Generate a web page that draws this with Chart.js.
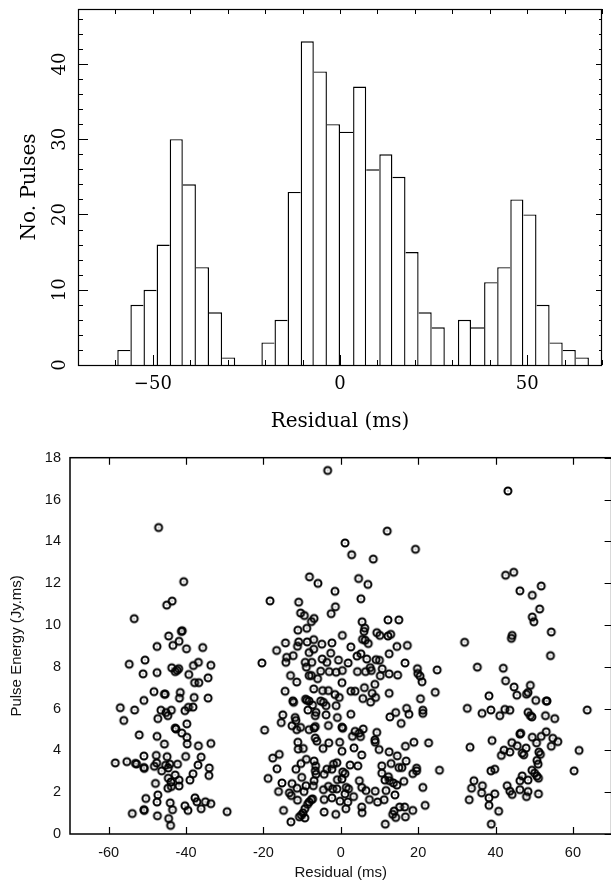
<!DOCTYPE html>
<html>
<head>
<meta charset="utf-8">
<script src="https://cdn.jsdelivr.net/npm/chart.js@4.4.1/dist/chart.umd.min.js"></script>
<style>
html,body{margin:0;padding:0;background:#fff;overflow:hidden;width:611px;height:880px}
#top{position:absolute;left:0;top:0;width:611px;height:440px}
#bot{position:absolute;left:0;top:440px;width:620px;height:440px}
</style>
</head>
<body>
<div id="top"><canvas id="histo" width="611" height="440"></canvas></div>
<div id="bot"><canvas id="scat" width="620" height="440"></canvas></div>
<script>
/* HISTOGRAM DATA (bins 3.5 ms wide) */
const binMid=[-57.75,-54.25,-50.75,-47.25,-43.75,-40.25,-36.75,-33.25,-29.75,-26.25,-22.75,-19.25,
  -15.75,-12.25,-8.75,-5.25,-1.75,1.75,5.25,8.75,12.25,15.75,19.25,22.75,26.25,29.75,
  33.25,36.75,40.25,43.75,47.25,50.75,54.25,57.75,61.25,64.75];
const counts=[2,8,10,16,30,24,13,7,1,0,0,3,6,23,43,39,32,31,37,26,28,25,15,7,5,0,6,5,11,13,22,20,8,3,2,1];
const histTicks=[0,10,20,30,40];
const scatXTicks=[-60,-40,-20,0,20,40,60];

/* SCATTER DATA */
const leftRes=[-47.1,-40.6,-43.6,-45.0,-53.4,-41.0,-41.2,-44.5,-41.8,-47.5,
-43.4,-39.9,-35.7,-54.7,-50.6,-43.7,-41.9,-42.3,-42.8,-38.1,
-36.8,-33.6,-39.3,-51.1,-47.5,-34.3,-37.8,-36.7,-48.3,-45.6,
-45.4,-41.5,-41.7,-50.9,-37.9,-34.3,-57.0,-53.3,-38.2,-39.4,
-40.3,-46.5,-43.8,-45.2,-44.7,-47.3,-56.1,-42.8,-42.6,-39.8,
-41.1,-52.1,-47.5,-39.8,-45.6,-39.7,-36.8,-33.6,-50.9,-47.7,
-44.9,-40.1,-36.1,-58.3,-55.3,-53.1,-52.8,-50.9,-50.8,-47.6,
-48.2,-45.3,-44.2,-42.2,-36.9,-34.0,-46.3,-44.6,-42.8,-38.2,
-34.1,-44.6,-43.9,-41.8,-39.0,-47.9,-44.7,-43.8,-41.8,-47.3,
-50.4,-37.7,-47.5,-44.1,-37.2,-35.0,-33.6,-40.3,-36.1,-50.9,
-50.8,-43.5,-39.5,-53.9,-29.4,-47.4,-44.5,-44.0];
const leftEng=[14.66,12.07,11.14,10.95,10.3,9.72,9.69,9.47,9.22,8.97,
9.02,8.86,8.92,8.12,8.32,7.95,7.91,7.83,7.77,8.06,
8.21,8.07,7.63,7.66,7.72,7.47,7.24,7.24,6.81,6.69,
6.69,6.77,6.50,6.39,6.53,6.50,6.04,5.93,6.07,6.06,
5.90,5.92,5.92,5.81,5.66,5.52,5.43,5.07,5.02,5.27,
4.83,4.74,4.67,4.63,4.30,4.31,4.22,4.33,3.73,3.76,
3.70,3.71,3.68,3.40,3.46,3.38,3.35,3.18,3.14,3.40,
3.24,3.29,3.34,3.34,3.30,3.16,3.02,3.16,2.82,2.88,
2.80,2.67,2.49,2.58,2.58,2.42,2.19,2.27,2.30,1.87,
1.70,1.73,1.53,1.49,1.54,1.54,1.45,1.35,1.21,1.16,
1.13,1.16,1.13,0.98,1.07,0.87,0.74,0.41];

const midRes=[-20.4,-18.3,-19.7,-18.8,-17.6,-16.6,-15.9,-16.5,-16.1,-15.2,
-14.8,-14.3,-14.0,-14.2,-12.3,-14.4,-15.0,-15.4,-13.0,-11.4,
-13.3,-12.8,-12.6,-12.9,-12.4,-12.2,-12.6,-11.8,-11.6,-10.9,
-11.1,-10.4,-9.4,-10.9,-11.2,-11.4,-10.4,-11.1,-11.0,-9.7,
-10.3,-8.9,-11.6,-10.1,-11.3,-9.5,-11.2,-9.3,-9.8,-10.2,
-9.3,-10.7,-8.6,-8.2,-7.6,-7.3,-8.1,-8.8,-8.7,-7.0,
-8.2,-7.0,-9.2,-7.5,-8.9,-8.2,-7.6,-7.0,-9.1,-8.8,
-8.2,-7.3,-8.5,-6.6,-6.6,-6.9,-8.2,-6.6,-6.2,-6.9,
-6.5,-6.6,-6.4,-7.1,-6.9,-9.0,-6.9,-7.6,-5.9,
-3.4,12.0,1.1,2.8,8.4,19.3,-1.5,-1.4,-2.5,4.6,
7.0,5.2,12.2,15.0,5.5,6.2,6.0,5.6,6.3,7.1,
9.3,10.1,12.2,12.9,0.4,2.6,5.2,4.2,-2.3,-4.9,
-2.6,-4.8,-3.6,9.1,10.0,6.7,12.5,14.5,17.2,1.9,
-0.6,16.6,-5.2,-3.0,-1.2,0.4,4.3,6.4,7.6,7.9,
10.7,12.5,14.7,10.2,8.8,19.8,19.9,20.5,21.0,24.9,
-6.0,0.3,2.6,3.7,6.1,8.1,9.0,7.7,5.7,12.5,
24.4,-4.7,-3.2,-1.5,-0.4,-1.2,-3.8,-5.2,-4.5,-6.4,
-3.8,-0.9,2.6,12.7,14.2,15.6,17.0,17.6,21.2,21.2,
20.6,-3.2,0.3,0.5,3.7,4.8,5.8,5.1,3.0,-4.6,
-3.1,-0.3,0.3,3.4,5.4,8.8,8.9,9.3,9.9,12.5,
14.6,16.7,18.9,22.7,16.9,15.8,15.0,13.0,10.6,10.6,
12.3,12.6,11.4,13.6,14.5,16.3,18.6,19.6,19.6,25.5,
21.2,11.7,14.0,11.2,9.5,7.4,8.9,6.5,5.4,4.8,
4.4,2.4,1.1,0.3,-0.9,-1.0,1.4,2.0,1.1,3.3,
1.8,-0.2,-2.3,-4.3,-2.1,-3.2,-4.5,-4.3,-3.6,-2.3,
-1.0,-1.9,0.5,-4.3,-1.3,1.3,5.4,5.5,13.8,13.4,
14.2,16.7,15.2,16.5,18.6,21.8,11.5];
const midEng=[8.18,11.15,4.97,2.66,3.63,8.78,3.81,3.12,2.03,2.44,
1.13,9.14,8.45,8.21,8.53,6.83,5.70,5.33,7.58,7.27,
1.97,1.84,2.41,0.58,6.37,6.30,5.18,5.57,5.43,11.09,
9.75,10.57,10.45,9.19,8.98,4.99,5.10,4.39,4.06,4.09,
3.37,3.57,3.10,2.71,2.19,2.03,1.62,1.21,1.01,0.90,
0.77,0.82,1.42,1.53,1.64,1.68,12.30,9.84,9.19,9.30,
8.68,8.84,8.21,8.21,7.98,7.58,7.58,6.94,6.45,6.40,
6.36,6.17,5.93,5.66,5.14,5.07,4.99,4.59,4.44,3.49,
3.26,3.02,2.86,2.31,2.55,2.31,10.31,10.16,11.99,
17.39,14.49,13.92,13.36,13.15,13.62,11.61,10.87,10.54,12.22,
11.94,11.25,10.24,10.24,10.15,9.85,9.69,9.31,9.27,9.11,
9.63,9.50,9.47,9.55,9.50,8.95,8.62,8.51,9.14,9.08,
8.65,8.37,8.21,8.34,8.31,8.37,8.62,8.97,9.02,8.18,
8.32,8.18,7.79,7.77,7.74,7.82,7.77,7.77,7.96,7.82,
7.90,7.66,7.60,7.57,7.16,7.91,7.68,7.55,7.28,7.85,
7.43,7.24,6.83,6.83,7.00,6.73,6.53,6.31,6.48,6.73,
6.78,6.86,6.86,6.67,6.53,6.14,6.14,6.36,6.30,5.82,
5.70,5.57,5.73,5.60,5.81,5.29,6.01,5.73,5.92,5.77,
6.47,5.19,5.11,5.06,4.91,4.83,5.02,4.66,4.67,4.09,
4.36,4.39,3.96,4.12,3.78,4.50,4.39,4.86,4.04,3.93,
3.74,4.20,4.39,4.36,3.49,3.18,3.18,3.37,3.26,2.91,
2.74,2.55,2.58,2.44,2.34,2.52,2.89,3.02,3.15,3.05,
2.23,2.08,1.87,1.64,1.53,1.65,2.05,2.08,2.23,2.55,
3.26,3.30,2.89,2.63,2.60,2.16,2.23,2.16,1.92,1.79,
1.53,1.57,1.73,1.65,2.16,2.28,2.12,2.86,3.10,3.10,
3.41,3.34,2.97,1.05,0.94,1.21,1.29,1.02,1.10,0.94,
0.79,0.82,1.29,1.29,1.13,1.37,0.47];

const rightRes=[32.0,35.3,32.7,33.4,33.2,33.8,34.4,36.6,36.4,36.5,
38.3,38.8,39.1,38.8,39.8,38.3,39.8,38.3,40.8,38.9,
43.2,42.6,44.7,46.3,49.5,51.8,51.4,49.5,49.9,54.4,
44.3,44.1,54.2,42.0,42.6,44.8,45.5,48.0,49.0,48.4,
50.4,53.1,53.3,41.1,42.4,43.7,48.4,49.0,49.4,52.9,
55.3,63.7,46.3,46.5,41.5,42.2,43.7,44.2,45.6,46.9,
47.9,47.3,49.5,50.6,51.8,53.1,54.8,56.1,54.4,51.2,
51.6,50.7,51.0,61.6,60.3,46.9,46.3,48.4,49.4,50.1,
50.7,51.1,43.0,43.7,44.3,46.3,48.4,48.0,51.1];
const rightEng=[9.17,7.98,6.01,4.15,1.64,2.19,2.55,2.31,1.97,5.77,
6.61,5.93,4.47,3.02,3.10,1.73,1.92,1.37,1.09,0.47,
16.41,12.38,12.52,11.63,11.42,11.86,10.76,10.38,10.15,9.66,
9.50,9.36,8.53,7.93,7.33,7.03,6.64,6.69,7.11,6.77,
6.39,6.36,6.36,5.66,5.96,5.92,5.82,5.66,5.60,5.66,
5.52,5.93,4.78,4.82,3.76,4.01,3.92,4.37,4.22,3.87,
4.11,3.79,4.63,4.36,4.67,4.89,4.58,4.42,4.20,3.92,
3.81,3.52,3.34,4.00,3.02,2.78,2.55,2.58,3.05,2.91,
2.77,2.67,2.31,2.05,1.89,2.12,2.03,1.79,1.92];

const serif='"DejaVu Serif", serif';
const sans='"Liberation Sans", Arial, sans-serif';

/* TOP: HISTOGRAM */
const histFrame={id:'histFrame',afterDraw(c){
  const {ctx,chartArea:a,scales:{x,y}}=c;
  ctx.save();
  ctx.strokeStyle='#000';ctx.lineWidth=1.2;
  ctx.strokeRect(a.left+.5,a.top+.5,a.right-a.left-1,a.bottom-a.top);
  ctx.lineWidth=1;ctx.beginPath();
  x.ticks.forEach(t=>{
    const p=Math.round(x.getPixelForValue(t.value))+.5,big=t.value%50===0;
    ctx.moveTo(p,a.bottom);ctx.lineTo(p,a.bottom-(big?10:5));
    ctx.moveTo(p,a.top);ctx.lineTo(p,a.top+5);
  });
  y.ticks.forEach(t=>{
    const p=Math.round(y.getPixelForValue(t.value))+.5,big=t.value%10===0;
    ctx.moveTo(a.left,p);ctx.lineTo(a.left+(big?10:5),p);
    ctx.moveTo(a.right,p);ctx.lineTo(a.right-(big?6:3),p);
  });
  ctx.stroke();
  // rotated y tick labels
  ctx.fillStyle='#000';ctx.font='18px '+serif;ctx.textAlign='center';ctx.textBaseline='middle';
  histTicks.forEach(v=>{
    ctx.save();ctx.translate(60,y.getPixelForValue(v));ctx.rotate(-Math.PI/2);
    ctx.fillText(String(v),0,0);ctx.restore();
  });
  ctx.restore();
}};

new Chart(histo,{
  type:'bar',
  data:{datasets:[{
    data:binMid.map((x,i)=>({x,y:counts[i]})),
    backgroundColor:'#fff',borderColor:'#000',
    borderWidth:c=>{
      const i=c.dataIndex,h=counts[i];
      const prev=i>0?counts[i-1]:0,next=i<counts.length-1?counts[i+1]:0;
      return {left:prev<=h?1.4:0,right:next<h?1.4:0,top:1.4,bottom:0};
    },
    borderSkipped:false,inflateAmount:0,barPercentage:1,categoryPercentage:1
  }]},
  options:{
    responsive:false,animation:false,events:[],
    layout:{padding:{top:9,right:2,left:0,bottom:0}},
    plugins:{legend:{display:false},tooltip:{enabled:false}},
    scales:{
      x:{type:'linear',min:-70,max:70,offset:false,
        grid:{display:false,drawTicks:false},border:{display:false},
        ticks:{stepSize:10,autoSkip:false,maxRotation:0,includeBounds:false,padding:9,color:'#000',
          font:{family:serif,size:18},
          callback:v=>v%50===0?(v<0?'\u2212'+(-v):String(v)):''},
        title:{display:true,text:'Residual (ms)',color:'#000',font:{family:serif,size:20,lineHeight:1},padding:{top:0,bottom:8}},
        afterFit:s=>{s.height=75}},
      y:{min:0,max:47.3,
        grid:{display:false,drawTicks:false},border:{display:false},
        ticks:{stepSize:2,display:false,includeBounds:false},
        title:{display:true,text:'No. Pulses',color:'#000',font:{family:serif,size:20,lineHeight:1},padding:{top:20,bottom:0}},
        afterFit:s=>{s.width=78}}
    }
  },
  plugins:[histFrame]
});

/* BOTTOM: SCATTER */
function ringDot(){
  const c=document.createElement('canvas');
  c.width=c.height=12;
  const g=c.getContext('2d');
  g.strokeStyle='#000';g.lineWidth=2;
  g.beginPath();g.arc(6,6,3.5,0,Math.PI*2);g.stroke();
  g.fillStyle='#333';g.fillRect(5.5,5.5,1,1);
  return c;
}

const scatFrame={id:'scatFrame',afterDraw(c){
  const {ctx,chartArea:a,scales:{x,y}}=c;
  ctx.save();
  ctx.strokeStyle='#000';ctx.lineWidth=1.5;
  ctx.strokeRect(a.left,a.top,a.right-a.left,a.bottom-a.top);
  ctx.lineWidth=1.2;ctx.beginPath();
  x.ticks.forEach(t=>{
    const p=Math.round(x.getPixelForValue(t.value))+.5;
    ctx.moveTo(p,a.bottom);ctx.lineTo(p,a.bottom-7);
    ctx.moveTo(p,a.top);ctx.lineTo(p,a.top+7);
  });
  y.ticks.forEach(t=>{
    const p=Math.round(y.getPixelForValue(t.value))+.5;
    ctx.moveTo(a.right,p);ctx.lineTo(a.right-7,p);
  });
  ctx.stroke();
  ctx.restore();
}};

const pts=[];
leftRes.forEach((x,i)=>pts.push({x,y:leftEng[i]}));
midRes.forEach((x,i)=>pts.push({x,y:midEng[i]}));
rightRes.forEach((x,i)=>pts.push({x,y:rightEng[i]}));

new Chart(scat,{
  type:'scatter',
  data:{datasets:[{data:pts,pointStyle:ringDot(),pointRadius:4}]},
  options:{
    responsive:false,animation:false,events:[],
    layout:{padding:{top:12.7,right:8.4,left:0,bottom:0}},
    plugins:{legend:{display:false},tooltip:{enabled:false}},
    scales:{
      x:{type:'linear',min:-70,max:70,
        afterBuildTicks:s=>{s.ticks=scatXTicks.map(v=>({value:v}))},
        grid:{display:false,drawTicks:false},border:{display:false},
        ticks:{autoSkip:false,maxRotation:0,padding:10,color:'#111',
          font:{family:sans,size:14.5}},
        title:{display:true,text:'Residual (ms)',color:'#111',font:{family:sans,size:15,lineHeight:1},padding:{top:0,bottom:0}},
        afterFit:s=>{s.height=46}},
      y:{min:0,max:18,
        grid:{display:false,drawTicks:false},border:{display:false},
        ticks:{stepSize:2,includeBounds:false,padding:9,color:'#111',font:{family:sans,size:14.5}},
        title:{display:true,text:'Pulse Energy (Jy.ms)',color:'#111',font:{family:sans,size:15,lineHeight:1},padding:{top:9.5,bottom:0}},
        afterFit:s=>{s.width=70}}
    }
  },
  plugins:[scatFrame]
});
</script>
</body>
</html>
